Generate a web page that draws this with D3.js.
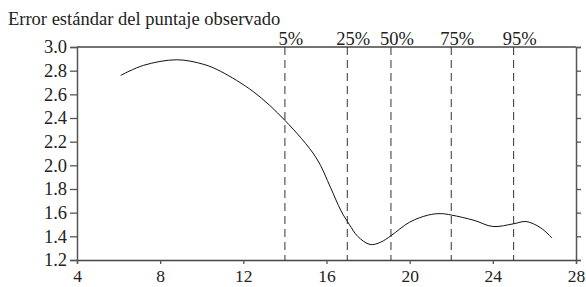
<!DOCTYPE html>
<html>
<head>
<meta charset="utf-8">
<script src="https://cdn.jsdelivr.net/npm/d3@7"></script>
<style>
	body { margin: 0; background: #fff; }
	svg text { font-family: 'Liberation Serif', 'Times New Roman', serif; fill: #222; }
</style>
</head>
<body>
<div id="chart"></div>
<script>
var scoreVals = [6.1, 7.2, 8.8, 10.1, 10.9, 12.5, 14.0, 15.5, 16.2, 16.7, 17.1, 17.5, 18.1, 18.6, 19.1, 20.0, 20.9, 21.5, 22.0, 23.1, 24.0, 25.0, 25.6, 26.3, 26.85];
var semVals = [2.76, 2.845, 2.892, 2.853, 2.795, 2.62, 2.38, 2.065, 1.81, 1.615, 1.5, 1.4, 1.331, 1.35, 1.405, 1.52, 1.58, 1.592, 1.58, 1.535, 1.483, 1.506, 1.525, 1.472, 1.385];

var pctLabels = ['5%', '25%', '50%', '75%', '95%'];
var pctScores = [14, 17, 19.1, 22, 25];

var xTicks = [4, 8, 12, 16, 20, 24, 28];
var yTicks = [1.2, 1.4, 1.6, 1.8, 2.0, 2.2, 2.4, 2.6, 2.8, 3.0];

var titleText = 'Error estándar del puntaje observado';

var margin = {top: 47, right: 10, bottom: 27, left: 77},
	width = 586 - margin.left - margin.right,
	height = 287 - margin.top - margin.bottom;

var svg = d3.select('#chart')
	.append('svg')
	.attr('width', 586)
	.attr('height', 287);

var g = svg.append('g')
	.attr('transform', 'translate(' + margin.left + ',' + margin.top + ')');

var x = d3.scaleLinear()
	.domain([4, 28])
	.range([0, width]);

var y = d3.scaleLinear()
	.domain([1.2, 3.0])
	.range([height, 0]);

// border on top
g.append('line')
	.attr('x1', 0).attr('x2', width)
	.attr('y1', 0).attr('y2', 0)
	.attr('stroke', '#444')
	.attr('stroke-width', 1.3);

g.append('g')
	.attr('class', 'y-axis')
	.call(d3.axisLeft(y).tickValues(yTicks).tickFormat(d3.format('.1f')).tickSize(7).tickPadding(3))
	.call(function(a) {
		a.select('.domain').attr('stroke', '#555').attr('stroke-width', 1.5);
		a.selectAll('.tick line').attr('stroke', '#555').attr('stroke-width', 1.3);
		a.selectAll('text').style('font-size', '18.5px');
	});

g.append('g')
	.attr('class', 'y-axis-right')
	.attr('transform', 'translate(' + width + ',0)')
	.call(d3.axisRight(y).tickValues(yTicks).tickFormat('').tickSize(5))
	.call(function(a) {
		a.select('.domain').attr('stroke', '#555').attr('stroke-width', 1.5);
		a.selectAll('.tick line').attr('stroke', '#555').attr('stroke-width', 1.3);
	});

g.append('g')
	.attr('class', 'x-axis')
	.attr('transform', 'translate(0,' + height + ')')
	.call(d3.axisBottom(x).tickValues(xTicks).tickSize(4).tickPadding(6))
	.call(function(a) {
		a.select('.domain').attr('stroke', '#444').attr('stroke-width', 1.3);
		a.selectAll('.tick line').attr('stroke', '#555').attr('stroke-width', 1.3);
		a.selectAll('text').style('font-size', '17.5px');
	});

// percentile markers
g.selectAll('.pct-line')
	.data(pctScores)
	.enter()
	.append('line')
	.attr('class', 'pct-line')
	.attr('x1', function(d) {return x(d)})
	.attr('x2', function(d) {return x(d)})
	.attr('y1', 0)
	.attr('y2', height)
	.attr('stroke', '#333')
	.attr('stroke-width', 1)
	.attr('stroke-dasharray', '8,5');

g.selectAll('.pct-label')
	.data(pctScores)
	.enter()
	.append('text')
	.attr('class', 'pct-label')
	.attr('x', function(d) {return x(d) + 6})
	.attr('y', -2)
	.attr('text-anchor', 'middle')
	.style('font-size', '18.5px')
	.text(function(d, i) {return pctLabels[i]});

var points = scoreVals.map(function(d, i) {return [d, semVals[i]]});

var line = d3.line()
	.x(function(d) {return x(d[0])})
	.y(function(d) {return y(d[1])})
	.curve(d3.curveCatmullRom.alpha(0.5));

g.append('path')
	.datum(points)
	.attr('d', line)
	.attr('fill', 'none')
	.attr('stroke', '#111')
	.attr('stroke-width', 1);

svg.append('text')
	.attr('x', 8)
	.attr('y', 25)
	.style('font-size', '18.5px')
	.text(titleText);
</script>
</body>
</html>
